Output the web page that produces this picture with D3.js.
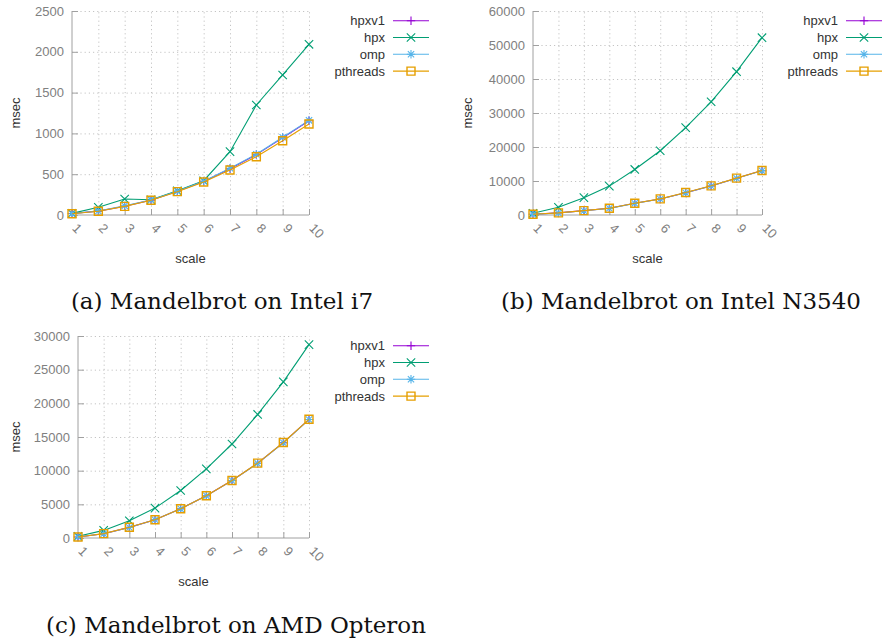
<!DOCTYPE html>
<html>
<head>
<meta charset="utf-8">
<script src="https://d3js.org/d3.v7.min.js"></script>
<style>
  body { margin: 0; background: #fff; }
  svg { display: block; }
  .tick text { font-family: "Liberation Sans", Arial, sans-serif; font-size: 13px; fill: #808080; }
  .axis path, .axis line { stroke: #a0a0a0; }
  .grid line { stroke: #c4c4c4; stroke-dasharray: 1.2,3; }
  .grid path { display: none; }
  .lbl { font-family: "Liberation Sans", Arial, sans-serif; font-size: 13px; fill: #333; }
  .cap { font-family: "DejaVu Serif", serif; font-size: 23px; fill: #111; }
</style>
</head>
<body>
<script>
// the x values and names of the series
var scale = [1, 2, 3, 4, 5, 6, 7, 8, 9, 10];
var seriesNames = ["hpxv1", "hpx", "omp", "pthreads"];

// (a) Intel i7, msec
var i7_hpxv1 = [18, 48, 108, 182, 290, 412, 568, 740, 945, 1155];
var i7_hpx = [20, 94, 196, 186, 296, 420, 776, 1348, 1716, 2092];
var i7_omp = [16, 50, 112, 184, 292, 414, 572, 745, 952, 1160];
var i7_pthreads = [15, 46, 106, 180, 286, 405, 551, 714, 910, 1115];
var i7_ticks = [0, 500, 1000, 1500, 2000, 2500];

// (b) Intel N3540, msec
var n3540_hpxv1 = [200, 620, 1280, 1970, 3440, 4720, 6570, 8540, 10820, 13060];
var n3540_hpx = [500, 2260, 5100, 8500, 13400, 18900, 25700, 33300, 42150, 52150];
var n3540_omp = [190, 610, 1270, 1960, 3430, 4700, 6560, 8530, 10800, 13040];
var n3540_pthreads = [210, 630, 1290, 1990, 3460, 4740, 6600, 8580, 10850, 13080];
var n3540_ticks = [0, 10000, 20000, 30000, 40000, 50000, 60000];

// (c) AMD Opteron, msec
var amd_hpxv1 = [150, 640, 1580, 2710, 4340, 6270, 8530, 11100, 14160, 17610];
var amd_hpx = [250, 1130, 2560, 4440, 7050, 10260, 13960, 18350, 23190, 28710];
var amd_omp = [145, 630, 1570, 2700, 4330, 6260, 8520, 11080, 14140, 17590];
var amd_pthreads = [155, 650, 1590, 2720, 4350, 6280, 8540, 11120, 14180, 17630];
var amd_ticks = [0, 5000, 10000, 15000, 20000, 25000, 30000];

var captions = ["(a) Mandelbrot on Intel i7", "(b) Mandelbrot on Intel N3540", "(c) Mandelbrot on AMD Opteron"];

// gnuplot default colours
var colours = ["#9400d3", "#009e73", "#56b4e9", "#e69f00"];

var svg = d3.select("body").append("svg")
    .attr("width", 885)
    .attr("height", 642);

// marker shapes, size s
function marker(i, s){
    if(i == 0){
        return "M" + (-s) + ",0H" + s + "M0," + (-s) + "V" + s;
    }
    else if(i == 1){
        return "M" + (-s) + "," + (-s) + "L" + s + "," + s + "M" + (-s) + "," + s + "L" + s + "," + (-s);
    }
    else if(i == 2){
        var d = s * 0.75;
        return "M" + (-s) + ",0H" + s + "M0," + (-s) + "V" + s +
               "M" + (-d) + "," + (-d) + "L" + d + "," + d + "M" + (-d) + "," + d + "L" + d + "," + (-d);
    }
    return "M" + (-s) + "," + (-s) + "H" + s + "V" + s + "H" + (-s) + "Z";
}

//Draws one panel
function panel(p){
    var x = d3.scaleLinear().domain([1, 10]).range([p.left, p.right]);
    var y = d3.scaleLinear().domain([0, p.ticks[p.ticks.length - 1]]).range([p.bottom, p.top]);
    var w = p.right - p.left;
    var h = p.bottom - p.top;

    // dotted grid
    svg.append("g")
        .attr("class", "grid")
        .attr("transform", "translate(" + p.left + ",0)")
        .call(d3.axisLeft(y).tickValues(p.ticks.slice(1)).tickSize(-w).tickFormat(""));
    svg.append("g")
        .attr("class", "grid")
        .attr("transform", "translate(0," + p.bottom + ")")
        .call(d3.axisBottom(x).tickValues(scale.slice(1)).tickSize(-h).tickFormat(""));

    svg.append("g")
        .attr("class", "axis")
        .attr("transform", "translate(" + p.left + ",0)")
        .call(d3.axisLeft(y).tickValues(p.ticks).tickFormat(d3.format("d"))
                .tickSize(-6).tickSizeOuter(0).tickPadding(8))
        .call(g => g.select(".domain").attr("d", "M0," + p.top + "V" + p.bottom));

    var xg = svg.append("g")
        .attr("class", "axis")
        .attr("transform", "translate(0," + p.bottom + ")")
        .call(d3.axisBottom(x).tickValues(scale).tickFormat(d3.format("d")).tickSize(-6).tickSizeOuter(0));
    xg.selectAll(".tick text")
        .attr("x", 0)
        .attr("y", 0)
        .attr("dy", 0)
        .attr("text-anchor", "start")
        .attr("transform", "translate(-1,14) rotate(45)");
    xg.select(".domain").attr("d", "M" + p.left + ",0H" + p.right);

    // axis titles
    svg.append("text")
        .attr("class", "lbl")
        .attr("transform", "translate(" + p.ylab + "," + (p.top + h / 2) + ") rotate(-90)")
        .attr("text-anchor", "middle")
        .attr("dy", "0.35em")
        .text("msec");
    svg.append("text")
        .attr("class", "lbl")
        .attr("x", p.left + w / 2)
        .attr("y", p.bottom + 48)
        .attr("text-anchor", "middle")
        .text("scale");

    var line = d3.line()
        .x((d, i) => x(scale[i]))
        .y(d => y(d));

    for(i = 0; i < p.series.length; i++){
        var c = colours[i];
        svg.append("path")
            .attr("d", line(p.series[i]))
            .attr("fill", "none")
            .attr("stroke", c)
            .attr("stroke-width", 1.1);
        svg.append("g").selectAll("path")
            .data(p.series[i])
            .join("path")
            .attr("transform", (d, j) => "translate(" + x(scale[j]) + "," + y(d) + ")")
            .attr("d", marker(i, i == 3 ? 4 : 4.2))
            .attr("fill", "none")
            .attr("stroke", c)
            .attr("stroke-width", i == 3 ? 1.4 : 1.1);

        // legend
        var ly = p.top + 9.7 + i * 16.8;
        svg.append("text")
            .attr("class", "lbl")
            .attr("x", p.legX)
            .attr("y", ly)
            .attr("dy", "0.35em")
            .attr("text-anchor", "end")
            .text(seriesNames[i]);
        svg.append("line")
            .attr("x1", p.legX + 8)
            .attr("x2", p.legX + 44)
            .attr("y1", ly)
            .attr("y2", ly)
            .attr("stroke", c)
            .attr("stroke-width", 1.1);
        svg.append("path")
            .attr("transform", "translate(" + (p.legX + 26) + "," + ly + ")")
            .attr("d", marker(i, i == 3 ? 4 : 4.2))
            .attr("fill", "none")
            .attr("stroke", c)
            .attr("stroke-width", i == 3 ? 1.4 : 1.1);
    }

    svg.append("text")
        .attr("class", "cap")
        .attr("x", p.capX)
        .attr("y", p.capY)
        .attr("text-anchor", "middle")
        .text(p.caption);
}

panel({left: 72, right: 309, top: 11, bottom: 215, ticks: i7_ticks, ylab: 15, legX: 385,
       series: [i7_hpxv1, i7_hpx, i7_omp, i7_pthreads], caption: captions[0], capX: 222, capY: 309});
panel({left: 533, right: 762, top: 11, bottom: 215, ticks: n3540_ticks, ylab: 467, legX: 838,
       series: [n3540_hpxv1, n3540_hpx, n3540_omp, n3540_pthreads], caption: captions[1], capX: 681, capY: 309});
panel({left: 78, right: 309, top: 336, bottom: 538, ticks: amd_ticks, ylab: 15, legX: 385,
       series: [amd_hpxv1, amd_hpx, amd_omp, amd_pthreads], caption: captions[2], capX: 236, capY: 633});
</script>
</body>
</html>
